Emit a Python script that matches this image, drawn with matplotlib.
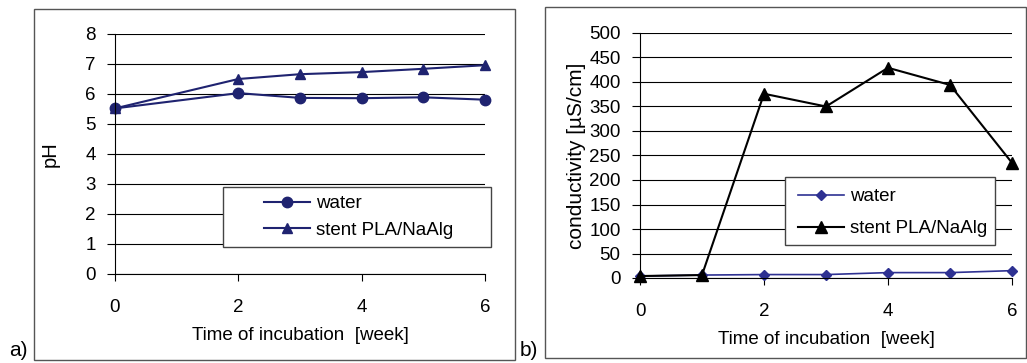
import matplotlib.pyplot as plt
from matplotlib.patches import Rectangle

plt.rcParams['font.family'] = ['Liberation Sans', 'DejaVu Sans']

# panel a: pH
weeks_ph = [0, 2, 3, 4, 5, 6]
ph_water = [5.52, 6.03, 5.87, 5.86, 5.89, 5.81]
ph_stent = [5.52, 6.5, 6.66, 6.73, 6.84, 6.96]

# panel b: conductivity
weeks_cond = [0, 1, 2, 3, 4, 5, 6]
cond_water = [4, 6, 7, 7, 11, 11, 15]
cond_stent = [4, 6, 376, 350, 429, 394, 235]

navy = '#1f2370'
W, H = 1027, 363
FS = 13.5

fig = plt.figure(figsize=(W / 100, H / 100), dpi=100)


def px_rect(x0, y0, x1, y1):
    # pixel box (top-left origin) -> figure rectangle
    fig.patches.append(Rectangle((x0 / W, 1 - y1 / H), (x1 - x0) / W, (y1 - y0) / H,
                                 transform=fig.transFigure, fill=False, ec='#555555', lw=1))


# outer frames around each panel
px_rect(34, 9, 515, 360)
px_rect(545, 7, 1026, 358)


def style_axes(ax):
    ax.spines['top'].set_visible(False)
    ax.spines['right'].set_visible(False)
    ax.spines['left'].set_linewidth(0.8)
    ax.spines['bottom'].set_linewidth(0.8)
    ax.yaxis.grid(True, color='black', lw=0.8)
    ax.set_axisbelow(True)
    ax.tick_params(axis='y', length=6, width=0.8, labelsize=FS, pad=8)
    ax.tick_params(axis='x', length=5, width=0.8, labelsize=FS, pad=13)
    ax.set_xticks([0, 2, 4, 6])
    ax.set_xlim(0, 6)


def add_legend(ax, box, hx, top, spacing):
    # legend entries without frame, plus a plain box drawn in pixels
    x0, y0, x1, y1 = box
    pos = ax.get_position()
    ax_x = (hx / W - pos.x0) / pos.width
    ax_y = ((1 - top / H) - pos.y0) / pos.height
    leg = ax.legend(loc='upper left', bbox_to_anchor=(ax_x, ax_y), fontsize=FS,
                    frameon=False, borderpad=0, borderaxespad=0,
                    handlelength=2.45, handletextpad=0.3, labelspacing=spacing)
    ax.add_patch(Rectangle((x0 / W, 1 - y1 / H), (x1 - x0) / W, (y1 - y0) / H,
                           transform=fig.transFigure, fc='white', ec='#444444',
                           lw=1, zorder=2.5, clip_on=False))
    leg.set_zorder(5)
    return leg


# --- a) pH ---
ax1 = fig.add_axes([115 / W, 89 / H, (485 - 115) / W, (329 - 89) / H])
ax1.plot(weeks_ph, ph_water, color=navy, marker='o', ms=7.5, lw=1.5, label='water', clip_on=False)
ax1.plot(weeks_ph, ph_stent, color=navy, marker='^', ms=7.5, lw=1.5, label='stent PLA/NaAlg', clip_on=False)
ax1.set_ylim(0, 8)
ax1.set_yticks(range(0, 9))
style_axes(ax1)
ax1.set_xlabel('Time of incubation  [week]', fontsize=13.5, labelpad=8)
ax1.set_ylabel('pH', fontsize=14.5, labelpad=18)
add_legend(ax1, (223, 187, 491, 247), 264, 195, 0.5)
fig.text(9 / W, 3 / H, 'a)', fontsize=15, va='bottom')

# --- b) conductivity ---
ax2 = fig.add_axes([640 / W, 85 / H, (1012 - 640) / W, (330 - 85) / H])
ax2.plot(weeks_cond, cond_water, color='#2e3192', marker='D', ms=5, lw=1.2, label='water', clip_on=False)
ax2.plot(weeks_cond, cond_stent, color='black', marker='^', ms=8.5, lw=1.5, label='stent PLA/NaAlg', clip_on=False)
ax2.set_ylim(0, 500)
ax2.set_yticks(range(0, 501, 50))
style_axes(ax2)
ax2.set_xlabel('Time of incubation  [week]', fontsize=13.5, labelpad=8)
ax2.set_ylabel('conductivity [µS/cm]', fontsize=15, labelpad=2)
add_legend(ax2, (785, 177, 995, 245), 798, 188, 0.8)
fig.text(520 / W, 3 / H, 'b)', fontsize=15, va='bottom')

fig.savefig('out.png', dpi=100)
